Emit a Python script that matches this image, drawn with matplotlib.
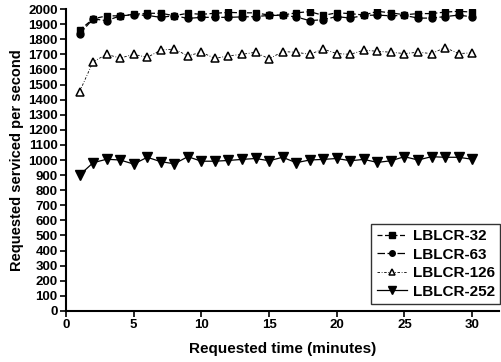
import numpy as np
import matplotlib.pyplot as plt

plt.rcParams['font.family'] = ['Liberation Sans', 'DejaVu Sans']
plt.rcParams['font.weight'] = 'bold'

# minutos de 1 a 30
t = np.arange(1, 31)

lblcr_32 = [1860, 1935, 1955, 1955, 1965, 1972, 1972, 1956, 1972, 1965,
            1972, 1978, 1975, 1975, 1960, 1960, 1975, 1983, 1958, 1975,
            1970, 1960, 1985, 1975, 1962, 1970, 1970, 1980, 1985, 1980]
lblcr_63 = [1835, 1935, 1923, 1955, 1962, 1958, 1945, 1956, 1938, 1945,
            1945, 1945, 1948, 1950, 1958, 1958, 1948, 1923, 1930, 1950,
            1940, 1958, 1960, 1955, 1958, 1940, 1940, 1950, 1960, 1948]
lblcr_126 = [1452, 1651, 1700, 1675, 1700, 1680, 1728, 1735, 1690, 1714,
             1673, 1690, 1700, 1714, 1670, 1718, 1714, 1700, 1735, 1705,
             1700, 1728, 1720, 1714, 1705, 1714, 1705, 1745, 1705, 1710]
lblcr_252 = [900, 982, 1005, 1000, 973, 1018, 989, 975, 1022, 992,
             992, 997, 1004, 1010, 995, 1018, 982, 1000, 1004, 1010,
             995, 1004, 984, 995, 1022, 1000, 1022, 1018, 1018, 1005]

fig = plt.figure(figsize=(5.02, 3.62), dpi=100)
ax = fig.add_axes([0.1315, 0.141, 0.863, 0.834])

ax.plot(t, lblcr_32, color='black', linestyle=(0, (4, 2)), linewidth=0.9,
        marker='s', markersize=5, label='LBLCR-32')
ax.plot(t, lblcr_63, color='black', linestyle=(0, (6, 2)), linewidth=0.9,
        marker='o', markersize=5, label='LBLCR-63')
ax.plot(t, lblcr_126, color='black', linestyle=(0, (3, 2, 1, 2)), linewidth=0.6,
        marker='^', markersize=6, markerfacecolor='white', markeredgewidth=1.1,
        label='LBLCR-126')
ax.plot(t, lblcr_252, color='black', linestyle='-', linewidth=0.9,
        marker='v', markersize=6.5, label='LBLCR-252')

ax.set_xlim(0, 32)
ax.set_ylim(0, 2000)
ax.set_xticks([0, 5, 10, 15, 20, 25, 30])
ax.set_yticks(np.arange(0, 2001, 100))

for s in ['top', 'right']:
    ax.spines[s].set_visible(False)
for s in ['left', 'bottom']:
    ax.spines[s].set_linewidth(1.5)

ax.tick_params(direction='out', length=4, width=1.2, labelsize=9.5, pad=2)
for lab in ax.get_xticklabels() + ax.get_yticklabels():
    lab.set_fontweight('bold')

ax.set_xlabel('Requested time (minutes)', fontsize=11, fontweight='bold', labelpad=8)
ax.set_ylabel('Requested serviced per second', fontsize=10.5, fontweight='bold', labelpad=3)

leg = ax.legend(loc='lower right', bbox_to_anchor=(0.996, 0.16),
                bbox_transform=fig.transFigure, fontsize=11, frameon=True,
                fancybox=False, edgecolor='black', handlelength=2.0,
                borderpad=0.35, labelspacing=0.3, handletextpad=0.35,
                borderaxespad=0.0, markerscale=0.8)
leg.get_frame().set_linewidth(1.0)
for txt in leg.get_texts():
    txt.set_fontweight('bold')

fig.savefig('out.png', dpi=100)
